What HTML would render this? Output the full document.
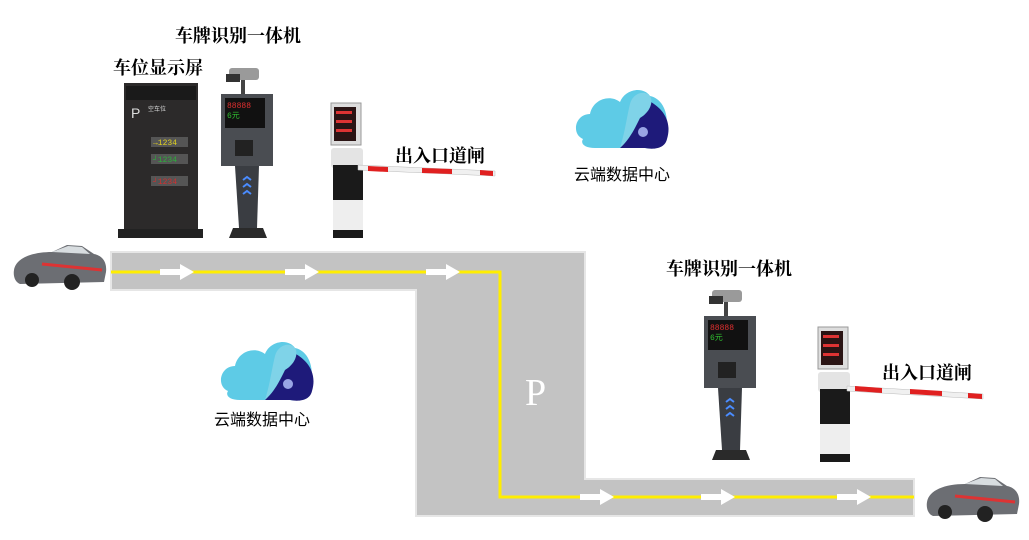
<!DOCTYPE html>
<html><head><meta charset="utf-8"><style>
html,body{margin:0;padding:0;background:#fff;width:1029px;height:540px;overflow:hidden}
svg{display:block}
.t{font-family:"Liberation Serif","Noto Serif CJK SC",serif;font-weight:bold;font-size:18px;fill:#000}
.c{font-family:"Liberation Sans","Noto Sans CJK SC",sans-serif;font-size:16px;fill:#000}
</style></head><body>
<svg width="1029" height="540" viewBox="0 0 1029 540" xmlns="http://www.w3.org/2000/svg">
<defs>
<g id="arrow"><rect x="0" y="-3" width="22" height="6" fill="#fff"/><polygon points="20,-8 34,0 20,8" fill="#fff"/></g>
<g id="cloud">
 <path d="M8,55 C-4,50 0,30 15,30 C18,15 35,10 45,18 C50,5 68,2 75,12 C90,15 95,35 90,50 C92,62 80,66 70,64 L20,64 C10,64 5,60 8,55Z" fill="#5ecbe6"/>
 <path d="M45,64 L72,16 C85,22 98,35 92,55 C90,64 80,66 70,64Z" fill="#1e1a7a"/>
 <circle cx="68" cy="48" r="5" fill="#b8c8ff" opacity="0.8"/>
 <path d="M55,20 C58,8 72,5 76,14 C78,22 72,30 65,34 C60,44 55,55 45,64 C50,48 52,32 55,20Z" fill="#7fd3e8"/>
</g>
<g id="kiosk">
 <rect x="8" y="0" width="30" height="12" rx="3" fill="#9a9a9a"/><rect x="5" y="6" width="14" height="8" fill="#333"/>
 <rect x="20" y="12" width="4" height="14" fill="#444"/>
 <rect x="0" y="26" width="52" height="72" fill="#4a4d52"/>
 <rect x="4" y="30" width="40" height="30" fill="#111"/>
 <text x="6" y="40" font-size="8" fill="#e03030" font-family="Liberation Mono">88888</text>
 <text x="6" y="50" font-size="8" fill="#30c030" font-family="Liberation Mono">6元</text>
 <rect x="14" y="72" width="18" height="16" fill="#222"/>
 <polygon points="14,98 38,98 36,160 18,160" fill="#3a3d42"/>
 <path d="M22,112 l4,-3 l4,3 M22,119 l4,-3 l4,3 M22,126 l4,-3 l4,3" stroke="#4a8cff" stroke-width="2" fill="none"/>
 <polygon points="12,160 42,160 46,170 8,170" fill="#2a2a2a"/>
</g>
<g id="barrier">
 <rect x="0" y="0" width="30" height="42" fill="#ddd" stroke="#999"/>
 <rect x="3" y="4" width="22" height="34" fill="#2a1414"/>
 <rect x="5" y="8" width="16" height="3" fill="#d33"/><rect x="5" y="17" width="16" height="3" fill="#d33"/><rect x="5" y="26" width="16" height="3" fill="#d33"/>
 <rect x="0" y="45" width="32" height="20" rx="3" fill="#e4e4e4"/>
 <rect x="2" y="62" width="30" height="35" fill="#1a1a1a"/>
 <rect x="2" y="97" width="30" height="30" fill="#eee"/>
 <rect x="2" y="127" width="30" height="8" fill="#1a1a1a"/>
</g>
<g id="car">
 <path d="M2,30 C4,18 20,12 40,12 L55,5 L70,6 L82,14 C92,16 95,24 94,32 L92,42 L8,44 C3,42 1,36 2,30Z" fill="#6c6e73"/>
 <path d="M40,12 L56,6 L70,7 L78,14 Z" fill="#d8dde0"/>
 <path d="M30,24 L90,30" stroke="#d33" stroke-width="3"/>
 <circle cx="20" cy="40" r="7" fill="#222"/><circle cx="60" cy="42" r="8" fill="#222"/>
</g>
</defs>

<!-- road -->
<path d="M111,252 L585,252 L585,479 L914,479 L914,516 L416,516 L416,290 L111,290Z" fill="#c3c3c3" stroke="#e6e6e6" stroke-width="2"/>
<polyline points="111,272 500,272 500,497 914,497" fill="none" stroke="#ffee00" stroke-width="3"/>
<use href="#arrow" x="160" y="272"/><use href="#arrow" x="285" y="272"/><use href="#arrow" x="426" y="272"/>
<use href="#arrow" x="580" y="497"/><use href="#arrow" x="701" y="497"/><use href="#arrow" x="837" y="497"/>
<text x="525" y="405" font-family="Liberation Serif,serif" font-size="38" fill="#fff">P</text>

<!-- labels -->
<text class="t" x="175" y="42">车牌识别一体机</text>
<text class="t" x="113" y="74">车位显示屏</text>
<text class="t" x="395" y="162">出入口道闸</text>
<text class="t" x="666" y="275">车牌识别一体机</text>
<text class="t" x="882" y="379">出入口道闸</text>
<text class="c" x="574" y="180">云端数据中心</text>
<text class="c" x="214" y="425">云端数据中心</text>

<!-- display screen -->
<rect x="124" y="83" width="74" height="146" fill="#2c2a2a"/>
<rect x="126" y="86" width="70" height="14" fill="#1a1a1a"/>
<text x="131" y="118" font-family="Liberation Sans" font-size="14" fill="#ddd">P</text>
<text x="148" y="111" font-family="Liberation Sans,Noto Sans CJK SC" font-size="6" fill="#ddd">空车位</text>
<rect x="151" y="137" width="37" height="10" fill="#555"/><text x="153" y="145" font-size="8" fill="#e0d020" font-family="Liberation Mono">→1234</text>
<rect x="151" y="154" width="37" height="10" fill="#555"/><text x="153" y="162" font-size="8" fill="#2cae3a" font-family="Liberation Mono">┘1234</text>
<rect x="151" y="176" width="37" height="10" fill="#555"/><text x="153" y="184" font-size="8" fill="#d03030" font-family="Liberation Mono">┘1234</text>
<rect x="118" y="229" width="85" height="9" fill="#222"/>

<!-- devices -->
<use href="#kiosk" x="221" y="68"/>
<use href="#barrier" x="331" y="103"/>
<polygon points="358,165 495,171 495,176 358,170" fill="#f0f0f0" stroke="#bbb" stroke-width="0.5"/>
<polygon points="368,166 388,167 388,172 368,171" fill="#e02020"/><polygon points="422,168 452,169 452,174 422,173" fill="#e02020"/><polygon points="480,170 493,171 493,176 480,175" fill="#e02020"/>

<use href="#kiosk" x="704" y="290"/>
<use href="#barrier" x="818" y="327"/>
<polygon points="847,386 983,394 983,399 847,391" fill="#f0f0f0" stroke="#bbb" stroke-width="0.5"/>
<polygon points="855,386 882,388 882,393 855,391" fill="#e02020"/><polygon points="910,389 942,391 942,396 910,394" fill="#e02020"/><polygon points="968,393 982,394 982,399 968,398" fill="#e02020"/>

<!-- clouds -->
<use href="#cloud" x="575" y="84"/>
<use href="#cloud" x="220" y="336"/>

<!-- cars -->
<use href="#car" x="12" y="240"/>
<use href="#car" x="925" y="472"/>
</svg>
</body></html>
